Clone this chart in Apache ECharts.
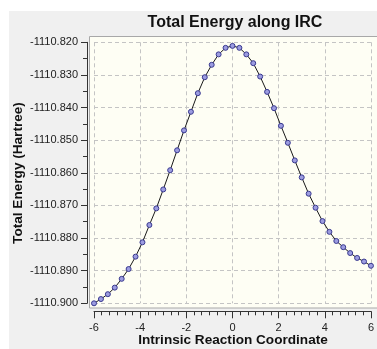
<!DOCTYPE html>
<html>
<head>
<meta charset="utf-8">
<script src="https://cdn.jsdelivr.net/npm/echarts@6/dist/echarts.min.js"></script>
<style>
html,body{margin:0;padding:0;background:#fff;}
#chart{width:377px;height:349px;}
</style>
</head>
<body>
<div id="chart"></div>
<script>
const titleText = 'Total Energy along IRC';
const xAxisName = 'Intrinsic Reaction Coordinate';
const yAxisName = 'Total Energy (Hartree)';

const ircCoord = [-6.0, -5.7, -5.4, -5.1, -4.8, -4.5, -4.2, -3.9, -3.6, -3.3, -3.0,
  -2.7, -2.4, -2.1, -1.8, -1.5, -1.2, -0.9, -0.6, -0.3, 0.0,
  0.3, 0.6, 0.9, 1.2, 1.5, 1.8, 2.1, 2.4, 2.7, 3.0,
  3.3, 3.6, 3.9, 4.2, 4.5, 4.8, 5.1, 5.4, 5.7, 6.0];

const totalEnergy = [-1110.9000, -1110.8987, -1110.8972, -1110.8952, -1110.8925, -1110.8895,
  -1110.8857, -1110.8813, -1110.8760, -1110.8709, -1110.8651,
  -1110.8592, -1110.8531, -1110.8470, -1110.8413, -1110.8356, -1110.8307,
  -1110.8269, -1110.8237, -1110.8217, -1110.8211,
  -1110.8217, -1110.8237, -1110.8264, -1110.8305, -1110.8352, -1110.8402,
  -1110.8456, -1110.8508, -1110.8562, -1110.8614,
  -1110.8664, -1110.8707, -1110.8748, -1110.8781, -1110.8809, -1110.8828,
  -1110.8846, -1110.8861, -1110.8872, -1110.8885];

const xMin = -6, xMax = 6, xStep = 2;
const yMin = -1110.90, yMax = -1110.82, yStep = 0.01;

const chart = echarts.init(document.getElementById('chart'), null, {renderer: 'canvas'});
const font = 'Liberation Sans, Arial, sans-serif';

chart.setOption({
  backgroundColor: '#ffffff',
  animation: false,
  graphic: [
    {type: 'rect', z: -20, shape: {x: 9, y: 11, width: 368, height: 338}, style: {fill: '#f0f0f0'}, silent: true},
    {type: 'rect', z: -19, shape: {x: 89.5, y: 36.5, width: 290, height: 271.5}, style: {fill: '#fefef4', stroke: '#a8a8a8', lineWidth: 1}, silent: true},
    {type: 'text', z: 10, x: 235, y: 23, style: {text: titleText, font: 'bold 16px ' + font, fill: '#111', textAlign: 'center', textVerticalAlign: 'middle'}},
    {type: 'text', z: 10, x: 233, y: 340, style: {text: xAxisName, font: 'bold 13.6px ' + font, fill: '#111', textAlign: 'center', textVerticalAlign: 'middle'}},
    {type: 'text', z: 10, x: 18, y: 173, rotation: Math.PI / 2, style: {text: yAxisName, font: 'bold 13.6px ' + font, fill: '#111', textAlign: 'center', textVerticalAlign: 'middle'}}
  ],
  grid: {left: 94, right: 1, top: 42.3, bottom: 45.7, containLabel: false},
  xAxis: {
    type: 'value', min: xMin, max: xMax, interval: xStep,
    position: 'bottom', offset: 8,
    axisLine: {show: true, onZero: false, lineStyle: {color: '#333', width: 1}},
    axisTick: {show: true, length: 7, lineStyle: {color: '#333'}},
    minorTick: {show: true, splitNumber: 6, length: 4, lineStyle: {color: '#333'}},
    axisLabel: {show: true, margin: 11, fontSize: 11, fontFamily: font, color: '#222'},
    splitLine: {show: true, lineStyle: {color: '#c4c4c4', type: [4, 3], width: 1}},
    minorSplitLine: {show: false}
  },
  yAxis: {
    type: 'value', min: yMin, max: yMax, interval: yStep,
    position: 'left', offset: 7,
    axisLine: {show: true, onZero: false, lineStyle: {color: '#333', width: 1}},
    axisTick: {show: true, length: 6, lineStyle: {color: '#333'}},
    minorTick: {show: true, splitNumber: 2, length: 4, lineStyle: {color: '#333'}},
    axisLabel: {show: true, margin: 9, fontSize: 11, fontFamily: font, color: '#222',
      formatter: v => v.toFixed(3)},
    splitLine: {show: true, lineStyle: {color: '#c4c4c4', type: [4, 3], width: 1}},
    minorSplitLine: {show: false}
  },
  series: [{
    type: 'line',
    data: ircCoord.map((x, i) => [x, totalEnergy[i]]),
    clip: false,
    smooth: false,
    symbol: 'circle',
    symbolSize: 5,
    showAllSymbol: true,
    lineStyle: {color: '#1a1a1a', width: 1},
    itemStyle: {color: '#9c9ce0', borderColor: '#3a3a90', borderWidth: 1},
    emphasis: {disabled: true}
  }]
});
</script>
</body>
</html>
